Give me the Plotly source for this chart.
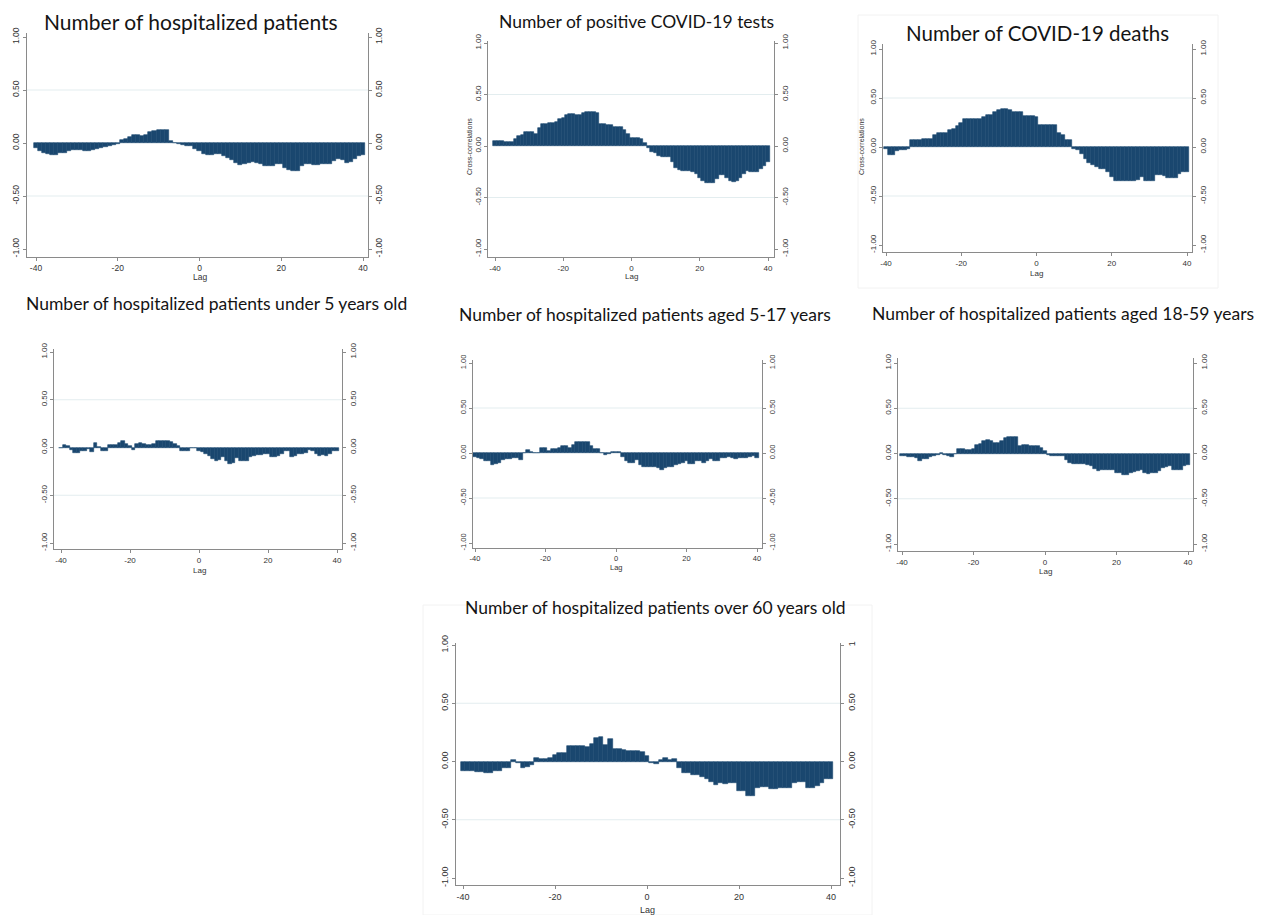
import plotly.graph_objects as go

# ---------------- data ----------------
lags = list(range(-40, 41))
x_tick_vals = [-40, -20, 0, 20, 40]
x_tick_text = ["-40", "-20", "0", "20", "40"]
y_tick_vals = [-1, -0.5, 0, 0.5, 1]
y_tick_text = ["-1.00", "-0.50", "0.00", "0.50", "1.00"]

titles = [
    "Number of hospitalized patients",
    "Number of positive COVID-19 tests",
    "Number of COVID-19 deaths",
    "Number of hospitalized patients under 5 years old",
    "Number of hospitalized patients aged 5-17 years",
    "Number of hospitalized patients aged 18-59 years",
    "Number of hospitalized patients over 60 years old",
]

ccf_hosp_all = [
    -0.05, -0.08, -0.09, -0.10, -0.11, -0.11, -0.09, -0.09, -0.08, -0.07,
    -0.07, -0.07, -0.08, -0.08, -0.07, -0.06, -0.05, -0.04, -0.03, -0.015,
    -0.005, 0.03, 0.035, 0.06, 0.075, 0.075, 0.07, 0.075, 0.10, 0.115,
    0.12, 0.125, 0.125, 0.015, 0.0, -0.005, -0.015, -0.025, -0.03, -0.055,
    -0.08, -0.10, -0.11, -0.11, -0.10, -0.10, -0.12, -0.14, -0.165, -0.19,
    -0.21, -0.20, -0.19, -0.18, -0.19, -0.20, -0.22, -0.22, -0.22, -0.20,
    -0.20, -0.235, -0.25, -0.265, -0.265, -0.22, -0.20, -0.20, -0.21, -0.21,
    -0.20, -0.20, -0.20, -0.17, -0.155, -0.16, -0.19, -0.18, -0.155, -0.125,
    -0.115,
]
ccf_positive_tests = [
    0.05, 0.05, 0.05, 0.04, 0.04, 0.04, 0.07, 0.10, 0.11, 0.135,
    0.135, 0.135, 0.12, 0.17, 0.215, 0.215, 0.22, 0.22, 0.23, 0.26,
    0.27, 0.30, 0.31, 0.31, 0.30, 0.305, 0.32, 0.33, 0.33, 0.33,
    0.32, 0.21, 0.21, 0.20, 0.20, 0.185, 0.185, 0.18, 0.155, 0.12,
    0.08, 0.08, 0.08, 0.065, 0.03, -0.015, -0.06, -0.07, -0.10, -0.11,
    -0.11, -0.11, -0.16, -0.21, -0.23, -0.24, -0.24, -0.24, -0.25, -0.27,
    -0.31, -0.34, -0.355, -0.355, -0.355, -0.32, -0.285, -0.285, -0.31, -0.34,
    -0.345, -0.34, -0.31, -0.27, -0.24, -0.25, -0.25, -0.25, -0.225, -0.19,
    -0.155,
]
ccf_deaths = [
    -0.02, -0.085, -0.085, -0.04, -0.035, -0.03, -0.025, 0.07, 0.075, 0.075,
    0.08, 0.08, 0.085, 0.12, 0.14, 0.14, 0.145, 0.17, 0.18, 0.21,
    0.25, 0.285, 0.285, 0.285, 0.285, 0.285, 0.305, 0.33, 0.33, 0.355,
    0.38, 0.385, 0.385, 0.38, 0.36, 0.36, 0.36, 0.32, 0.32, 0.32,
    0.31, 0.22, 0.22, 0.225, 0.225, 0.225, 0.145, 0.12, 0.075, 0.07,
    -0.025, -0.035, -0.075, -0.12, -0.16, -0.18, -0.20, -0.22, -0.22, -0.26,
    -0.31, -0.345, -0.35, -0.35, -0.35, -0.345, -0.345, -0.34, -0.31, -0.35,
    -0.35, -0.35, -0.29, -0.29, -0.30, -0.32, -0.32, -0.32, -0.275, -0.26,
    -0.26,
]
ccf_under5 = [
    -0.005, 0.025, 0.015, -0.03, -0.06, -0.06, -0.04, -0.04, -0.02, -0.05,
    0.05, 0.005, -0.04, -0.035, 0.025, 0.03, 0.03, 0.05, 0.065, 0.04,
    0.015, -0.03, 0.04, 0.05, 0.04, 0.03, 0.03, 0.04, 0.065, 0.07,
    0.065, 0.065, 0.06, 0.035, 0.015, -0.035, -0.035, -0.035, -0.005, -0.005,
    -0.035, -0.05, -0.07, -0.09, -0.12, -0.14, -0.13, -0.10, -0.14, -0.17,
    -0.16, -0.11, -0.145, -0.145, -0.145, -0.10, -0.09, -0.08, -0.08, -0.07,
    -0.07, -0.095, -0.095, -0.09, -0.065, -0.04, -0.035, -0.10, -0.09, -0.065,
    -0.065, -0.055, -0.03, -0.035, -0.065, -0.09, -0.08, -0.09, -0.065, -0.035,
    -0.035,
]
ccf_5_17 = [
    -0.04, -0.06, -0.07, -0.09, -0.09, -0.13, -0.125, -0.115, -0.08, -0.07,
    -0.07, -0.05, -0.05, -0.08, 0.0, 0.035, 0.015, 0.0, 0.0, 0.06,
    0.06, 0.02, 0.045, 0.045, 0.06, 0.08, 0.08, 0.06, 0.09, 0.12,
    0.125, 0.12, 0.12, 0.08, 0.05, 0.05, 0.0, -0.02, -0.015, 0.015,
    0.015, 0.01, -0.04, -0.09, -0.115, -0.115, -0.08, -0.13, -0.15, -0.15,
    -0.15, -0.15, -0.17, -0.19, -0.17, -0.16, -0.15, -0.13, -0.125, -0.115,
    -0.09, -0.125, -0.125, -0.09, -0.09, -0.115, -0.09, -0.065, -0.09, -0.09,
    -0.06, -0.06, -0.04, -0.06, -0.07, -0.06, -0.05, -0.05, -0.04, -0.03,
    -0.06,
]
ccf_18_59 = [
    -0.025, -0.025, -0.035, -0.035, -0.05, -0.08, -0.06, -0.06, -0.035, -0.025,
    -0.015, 0.01, -0.015, -0.025, -0.035, 0.0, 0.055, 0.045, 0.035, 0.035,
    0.055, 0.09, 0.10, 0.135, 0.145, 0.135, 0.12, 0.12, 0.135, 0.17,
    0.18, 0.18, 0.18, 0.08, 0.09, 0.09, 0.08, 0.08, 0.08, 0.065,
    0.03, -0.015, -0.025, -0.03, -0.03, -0.025, -0.07, -0.11, -0.115, -0.12,
    -0.12, -0.12, -0.13, -0.14, -0.17, -0.19, -0.185, -0.18, -0.18, -0.18,
    -0.215, -0.22, -0.24, -0.24, -0.215, -0.205, -0.19, -0.185, -0.22, -0.23,
    -0.22, -0.21, -0.19, -0.155, -0.15, -0.14, -0.185, -0.185, -0.18, -0.14,
    -0.13,
]
ccf_over60 = [
    -0.08, -0.08, -0.085, -0.09, -0.09, -0.10, -0.10, -0.085, -0.085, -0.057,
    -0.057, 0.01, -0.015, -0.057, -0.05, -0.03, 0.03, 0.025, 0.025, 0.03,
    0.057, 0.07, 0.077, 0.13, 0.137, 0.137, 0.13, 0.125, 0.15, 0.20,
    0.21, 0.14, 0.195, 0.105, 0.105, 0.10, 0.09, 0.09, 0.09, 0.085,
    0.05, -0.01, -0.02, 0.01, 0.03, 0.01, 0.025, -0.057, -0.10, -0.10,
    -0.115, -0.115, -0.13, -0.15, -0.18, -0.20, -0.185, -0.19, -0.185, -0.185,
    -0.25, -0.25, -0.295, -0.30, -0.23, -0.215, -0.215, -0.235, -0.235, -0.23,
    -0.23, -0.23, -0.185, -0.18, -0.18, -0.23, -0.23, -0.21, -0.185, -0.15,
    -0.15,
]

series = [ccf_hosp_all, ccf_positive_tests, ccf_deaths, ccf_under5,
          ccf_5_17, ccf_18_59, ccf_over60]

# ---------------- layout (pixel geometry of each panel) ----------------
W, H = 1267, 915
# (axis left px, axis right px, px of lag -40, px of lag 40,
#  axis top px, axis bottom px, px of y=1, px of y=-1)
geom = [
    (27, 368, 36, 363, 33, 257, 37, 249),
    (488, 774, 495, 768, 41, 257, 43, 249),
    (883, 1192, 886, 1187, 44, 252, 49, 245),
    (54, 342, 61, 337, 349, 549, 352, 543),
    (473, 762, 475, 757, 360, 548, 363, 543),
    (898, 1193, 902, 1188, 358, 551, 363, 544),
    (456, 840, 463, 831, 643, 885, 645, 878),
]
# title centre x, centre y, font size
title_pos = [
    (191, 21, 21), (636, 21, 17.5), (1037, 33, 20.5),
    (216, 303, 17.5), (645, 315, 17.5), (1063, 313, 17.5), (655, 607, 17.5),
]
lag_offset = [20, 20, 21, 21, 19, 20, 25]
tick_font = [8.5, 8, 8, 8, 7.5, 8, 9]

BAR = "#1a476f"
AXIS = "#8a8a8a"
GRID = "#e3edef"
TXT = "#333333"

fig = go.Figure()
shapes = []
annotations = []

for i, (vals, g) in enumerate(zip(series, geom)):
    n = i + 1
    xl, xr, xa, xb, yt, yb, yp, ym = g
    ppx = (xb - xa) / 80.0
    xrange = [-40 - (xa - xl) / ppx, 40 + (xr - xb) / ppx]
    ppy = (ym - yp) / 2.0
    yrange = [-1 - (yb - ym) / ppy, 1 + (yp - yt) / ppy]
    xdom = [xl / W, xr / W]
    ydom = [1 - yb / H, 1 - yt / H]
    xs = "" if n == 1 else str(n)
    rn = n + 7

    fig.add_trace(go.Bar(
        x=lags, y=vals, width=1.0,
        marker=dict(color=BAR, line=dict(color=BAR, width=0.6)),
        xaxis="x" + xs, yaxis="y" + xs, showlegend=False,
        hovertemplate="Lag %{x}: %{y:.2f}<extra></extra>",
    ))

    tf = dict(family="Liberation Sans, Arial, sans-serif", size=tick_font[i], color=TXT)
    common = dict(showline=True, linecolor=AXIS, linewidth=1.3,
                  ticks="outside", ticklen=3, tickcolor=AXIS, tickwidth=1,
                  showgrid=False, zeroline=False, tickfont=tf, fixedrange=True,
                  automargin=False)
    fig.layout["xaxis" + xs] = dict(
        domain=xdom, range=xrange, anchor="y" + xs,
        tickvals=x_tick_vals, ticktext=x_tick_text, **common)
    fig.layout["yaxis" + xs] = dict(
        domain=ydom, range=yrange, anchor="x" + xs,
        tickvals=y_tick_vals, ticktext=y_tick_text, tickangle=-90, **common)
    right_text = list(y_tick_text)
    if n == 7:
        right_text[-1] = "1"
    fig.layout["yaxis" + str(rn)] = dict(
        domain=ydom, range=yrange, anchor="x" + xs,
        overlaying="y" + xs, side="right",
        tickvals=y_tick_vals, ticktext=right_text, tickangle=-90, **common)
    # invisible trace to activate the right axis
    fig.add_trace(go.Scatter(x=[lags[0]], y=[vals[0]], mode="markers",
                             marker=dict(opacity=0), xaxis="x" + xs,
                             yaxis="y" + str(rn), showlegend=False,
                             hoverinfo="skip"))

    for gv in (0.5, -0.5):
        shapes.append(dict(type="line", xref="x" + xs + " domain", x0=0, x1=1,
                           yref="y" + xs, y0=gv, y1=gv, layer="below",
                           line=dict(color=GRID, width=1)))

    tx, ty, tsz = title_pos[i]
    annotations.append(dict(text=titles[i], xref="paper", yref="paper",
                            x=tx / W, y=1 - ty / H, xanchor="center", yanchor="middle",
                            showarrow=False,
                            font=dict(family="Lato, Open Sans, sans-serif", size=tsz, color="#141414")))
    annotations.append(dict(text="Lag", xref="x" + xs, yref="paper",
                            x=0, y=1 - (yb + lag_offset[i]) / H,
                            xanchor="center", yanchor="middle", showarrow=False,
                            font=dict(family="Liberation Sans, Arial, sans-serif",
                                      size=tick_font[i], color=TXT)))

# y-axis titles on panels 2 and 3
for px, py in ((469, 147), (861, 147)):
    annotations.append(dict(text="Cross-correlations", xref="paper", yref="paper",
                            x=px / W, y=1 - py / H, textangle=-90,
                            xanchor="center", yanchor="middle", showarrow=False,
                            font=dict(family="Liberation Sans, Arial, sans-serif",
                                      size=7, color=TXT)))

# faint frames of the pasted sub-images
for x0, y0, x1, y1 in ((858, 15, 1218, 288), (423, 605, 872, 915)):
    shapes.append(dict(type="rect", xref="paper", yref="paper",
                       x0=x0 / W, x1=x1 / W, y0=1 - y1 / H, y1=1 - y0 / H,
                       line=dict(color="#f2f2f2", width=1), layer="below"))

fig.update_layout(
    width=W, height=H, autosize=False,
    margin=dict(l=0, r=0, t=0, b=0, pad=0),
    paper_bgcolor="white", plot_bgcolor="white",
    bargap=0, barmode="overlay",
    shapes=shapes, annotations=annotations,
    showlegend=False,
)

fig.write_html(
    "out.html",
    config={"displayModeBar": False},
    post_script="document.body.style.margin='0px';document.body.style.padding='0px';"
                "document.body.style.overflow='hidden';",
)
